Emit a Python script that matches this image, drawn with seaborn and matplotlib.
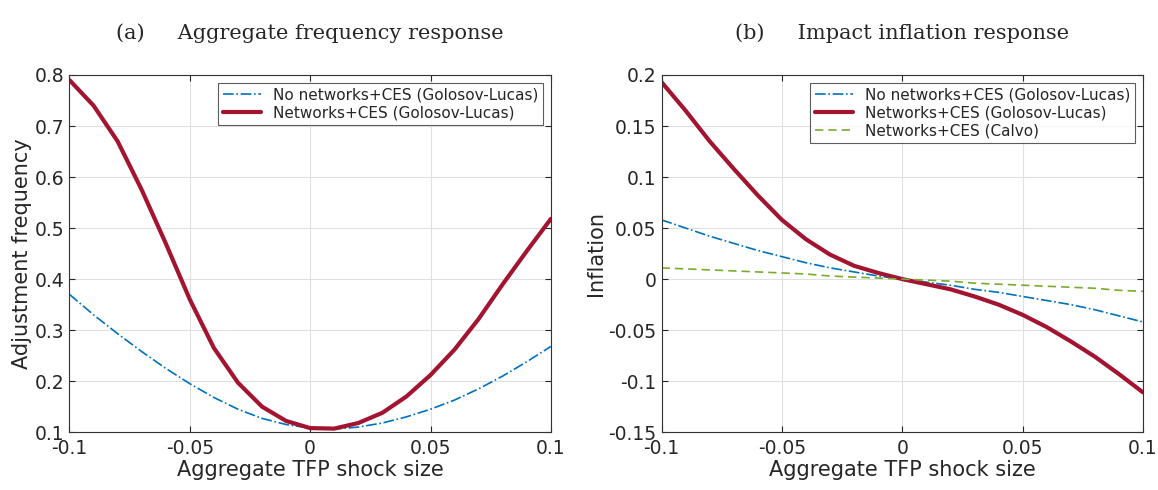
import numpy as np
import pandas as pd
import matplotlib.pyplot as plt
import seaborn as sns

sns.set_style("whitegrid")
plt.rcParams['font.family'] = ['DejaVu Sans']

shock = np.round(np.arange(-0.1, 0.1001, 0.01), 2)

freq_net = [0.79, 0.74, 0.67, 0.575, 0.47, 0.36, 0.265, 0.197, 0.15, 0.122, 0.108,
            0.107, 0.118, 0.138, 0.17, 0.212, 0.262, 0.322, 0.39, 0.455, 0.518]
freq_nonet = [0.37, 0.33, 0.293, 0.258, 0.225, 0.195, 0.168, 0.145, 0.127, 0.115, 0.108,
              0.106, 0.11, 0.118, 0.13, 0.145, 0.163, 0.185, 0.21, 0.238, 0.268]

inf_net = [0.193, 0.165, 0.135, 0.108, 0.082, 0.058, 0.039, 0.024, 0.013, 0.006, 0.0,
           -0.005, -0.01, -0.017, -0.025, -0.035, -0.047, -0.061, -0.076, -0.093, -0.111]
inf_nonet = [0.058, 0.050, 0.042, 0.035, 0.028, 0.022, 0.016, 0.011, 0.007, 0.003, 0.0,
             -0.003, -0.006, -0.01, -0.013, -0.017, -0.021, -0.025, -0.03, -0.036, -0.042]
inf_calvo = [0.011, 0.010, 0.009, 0.008, 0.007, 0.006, 0.005, 0.003, 0.002, 0.001, 0.0,
             -0.001, -0.002, -0.004, -0.005, -0.006, -0.007, -0.008, -0.009, -0.011, -0.012]

blue, red, green = '#0072BD', '#A2142F', '#77AC30'

fig, axes = plt.subplots(1, 2, figsize=(11.58, 4.9), dpi=100)

ax = axes[0]
sns.lineplot(x=shock, y=freq_nonet, ax=ax, color=blue, lw=1.2, linestyle='-.',
             label='No networks+CES (Golosov-Lucas)')
sns.lineplot(x=shock, y=freq_net, ax=ax, color=red, lw=3,
             label='Networks+CES (Golosov-Lucas)')
ax.set_ylim(0.1, 0.8)
ax.set_yticks(np.arange(0.1, 0.81, 0.1))
ax.set_yticklabels([f'{v:.1f}' for v in np.arange(0.1, 0.81, 0.1)])
ax.set_ylabel('Adjustment frequency', fontsize=15, labelpad=2)
ax.set_title('(a)     Aggregate frequency response', family='DejaVu Serif', fontsize=15, pad=26)

ax = axes[1]
sns.lineplot(x=shock, y=inf_nonet, ax=ax, color=blue, lw=1.2, linestyle='-.',
             label='No networks+CES (Golosov-Lucas)')
sns.lineplot(x=shock, y=inf_net, ax=ax, color=red, lw=3,
             label='Networks+CES (Golosov-Lucas)')
sns.lineplot(x=shock, y=inf_calvo, ax=ax, color=green, lw=1.2, linestyle=(0, (5, 3)),
             label='Networks+CES (Calvo)')
ax.set_ylim(-0.15, 0.2)
ax.set_yticks(np.arange(-0.15, 0.201, 0.05))
ax.set_yticklabels(['-0.15', '-0.1', '-0.05', '0', '0.05', '0.1', '0.15', '0.2'])
ax.set_ylabel('Inflation', fontsize=15, labelpad=2)
ax.set_title('(b)     Impact inflation response', family='DejaVu Serif', fontsize=15, pad=26)

for ax in axes:
    ax.set_xlim(-0.1, 0.1)
    ax.set_xticks([-0.1, -0.05, 0, 0.05, 0.1])
    ax.set_xticklabels(['-0.1', '-0.05', '0', '0.05', '0.1'])
    ax.set_xlabel('Aggregate TFP shock size', fontsize=15, labelpad=1)
    ax.tick_params(labelsize=13.5, direction='in', length=4, left=True, bottom=True, top=True, right=True)
    ax.tick_params(axis='x', pad=5)
    ax.grid(True, color='#e0e0e0', lw=0.8)
    for s in ax.spines.values():
        s.set_color('#333333')
        s.set_linewidth(0.8)
    leg = ax.legend(loc='upper right', fontsize=11, frameon=True, fancybox=False,
                    edgecolor='#333333', handlelength=2.5, borderpad=0.3, labelspacing=0.2)
    leg.get_frame().set_linewidth(0.8)

plt.subplots_adjust(left=0.06, right=0.987, top=0.847, bottom=0.118, wspace=0.23)
plt.savefig('out.png')
